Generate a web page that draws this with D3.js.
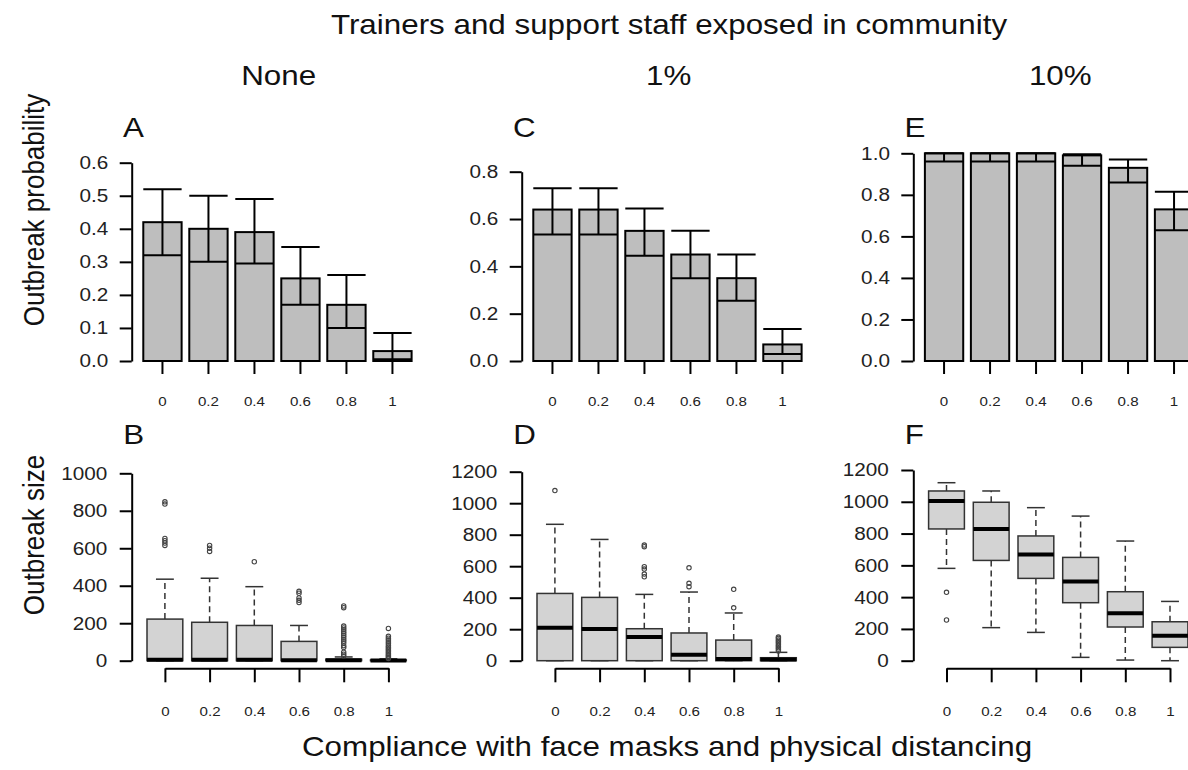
<!DOCTYPE html>
<html>
<head>
<meta charset="utf-8">
<script src="https://cdn.jsdelivr.net/npm/d3@7"></script>
<style>
  body { margin: 0; background: #fff; }
  svg { display: block; font-family: "Liberation Sans", Arial, sans-serif; }
</style>
</head>
<body>
<svg id="chart" width="1188" height="770"></svg>
<script>
const compliance = ["0", "0.2", "0.4", "0.6", "0.8", "1"]
const exposures = ["None", "1%", "10%"]
const lettersTop = ["A", "C", "E"]
const lettersBottom = ["B", "D", "F"]

// outbreak probability: estimate, lower and upper bound
const probNone = [0.42, 0.40, 0.39, 0.25, 0.17, 0.03]
const probNoneLo = [0.32, 0.30, 0.295, 0.17, 0.10, 0.005]
const probNoneHi = [0.52, 0.50, 0.49, 0.345, 0.26, 0.085]

const probOne = [0.64, 0.64, 0.55, 0.45, 0.35, 0.07]
const probOneLo = [0.535, 0.535, 0.445, 0.35, 0.255, 0.03]
const probOneHi = [0.73, 0.73, 0.645, 0.55, 0.45, 0.135]

const probTen = [1.0, 1.0, 1.0, 0.99, 0.93, 0.73]
const probTenLo = [0.96, 0.96, 0.96, 0.94, 0.86, 0.63]
const probTenHi = [1.0, 1.0, 1.0, 0.995, 0.97, 0.815]

const probTicksNone = [0, 0.1, 0.2, 0.3, 0.4, 0.5, 0.6]
const probTicksOne = [0, 0.2, 0.4, 0.6, 0.8]
const probTicksTen = [0, 0.2, 0.4, 0.6, 0.8, 1.0]

// outbreak size: [lower whisker, q1, median, q3, upper whisker]
const sizeNone = [
  [0, 0, 5, 222, 435], [0, 0, 5, 205, 440], [0, 0, 5, 188, 395],
  [0, 0, 3, 103, 188], [0, 0, 2, 8, 20], [0, 0, 1, 4, 10]
]
const outNone = [
  [615, 628, 640, 652, 836, 848],
  [583, 600, 615],
  [528],
  [310, 322, 335, 360, 370],
  [25, 35, 45, 70, 80, 95, 105, 115, 125, 135, 145, 155, 165, 175, 185, 283, 292],
  [12, 18, 25, 32, 40, 48, 56, 64, 72, 80, 90, 100, 110, 120, 130, 172]
]

const sizeOne = [
  [0, 0, 210, 427, 866], [0, 0, 201, 402, 770], [0, 0, 150, 203, 421],
  [0, 0, 38, 176, 436], [0, 0, 11, 131, 303], [0, 0, 8, 19, 53]
]
const outOne = [
  [1080],
  [],
  [533, 550, 582, 597, 724, 734],
  [470, 491, 590],
  [336, 453],
  [62, 72, 82, 92, 102, 112, 122, 132, 142, 150]
]

const sizeTen = [
  [581, 829, 1005, 1068, 1120], [208, 631, 829, 997, 1068], [178, 518, 669, 785, 963],
  [21, 365, 499, 650, 910], [4, 212, 298, 434, 753], [0, 84, 157, 245, 373]
]
const outTen = [[256, 430], [], [], [], [], []]

const sizeTicksNone = [0, 200, 400, 600, 800, 1000]
const sizeTicksMore = [0, 200, 400, 600, 800, 1000, 1200]

const STRETCH = 1.12
const panelLeft = [131.7, 521.7, 913.3]
const svg = d3.select("#chart")

const addText = (x, y, str, size, anchor = "middle") => {
  return svg.append("text")
    .attr("transform", `translate(${x},${y}) scale(${STRETCH},1)`)
    .attr("text-anchor", anchor)
    .attr("font-size", size)
    .attr("fill", "#111")
    .text(str)
}

const styleYAxis = (sel, dist) => {
  sel.select(".domain").attr("stroke", "#000").attr("stroke-width", 2)
  sel.selectAll(".tick line").attr("stroke", "#000").attr("stroke-width", 2)
  sel.selectAll(".tick text")
    .attr("x", -dist / STRETCH)
    .attr("transform", `scale(${STRETCH},1)`)
    .attr("font-size", 18.5)
    .attr("font-family", "Liberation Sans, Arial, sans-serif")
    .attr("fill", "#222")
}

const styleXAxis = (sel, labelY) => {
  sel.selectAll(".tick line").attr("stroke", "#000").attr("stroke-width", 2)
  sel.selectAll(".tick text")
    .attr("y", labelY)
    .attr("dy", "0.35em")
    .attr("transform", `scale(${STRETCH},1)`)
    .attr("font-size", 13.5)
    .attr("font-family", "Liberation Sans, Arial, sans-serif")
    .attr("fill", "#222")
}

const drawBarPanel = (x0, mean, lo, hi, ticks, topY, letter) => {
  const xScale = d3.scaleBand()
    .domain(compliance)
    .range([x0, x0 + 291.5])
    .paddingInner(1 / 6)
    .paddingOuter(0.252)
  const yScale = d3.scaleLinear().domain([0, d3.max(ticks)]).range([361, topY])
  const bw = xScale.bandwidth()

  const g = svg.append("g")

  g.selectAll(".bar")
    .data(compliance)
    .enter()
    .append("rect")
    .classed("bar", true)
    .attr("x", d => xScale(d))
    .attr("y", (d, i) => yScale(mean[i]))
    .attr("width", bw)
    .attr("height", (d, i) => yScale(0) - yScale(mean[i]))
    .attr("fill", "#bebebe")
    .attr("stroke", "#000")
    .attr("stroke-width", 2)

  // lower bound line across the bar, upper cap, and the vertical bar between
  g.selectAll(".lo")
    .data(compliance)
    .enter()
    .append("line")
    .attr("x1", d => xScale(d))
    .attr("x2", d => xScale(d) + bw)
    .attr("y1", (d, i) => yScale(lo[i]))
    .attr("y2", (d, i) => yScale(lo[i]))
    .attr("stroke", "#000")
    .attr("stroke-width", 2)

  g.selectAll(".hi")
    .data(compliance)
    .enter()
    .append("line")
    .attr("x1", d => xScale(d))
    .attr("x2", d => xScale(d) + bw)
    .attr("y1", (d, i) => yScale(hi[i]))
    .attr("y2", (d, i) => yScale(hi[i]))
    .attr("stroke", "#000")
    .attr("stroke-width", 2)

  g.selectAll(".err")
    .data(compliance)
    .enter()
    .append("line")
    .attr("x1", d => xScale(d) + bw / 2)
    .attr("x2", d => xScale(d) + bw / 2)
    .attr("y1", (d, i) => yScale(lo[i]))
    .attr("y2", (d, i) => yScale(hi[i]))
    .attr("stroke", "#000")
    .attr("stroke-width", 2)

  const yAxis = d3.axisLeft(yScale)
    .tickValues(ticks)
    .tickSize(12)
    .tickSizeOuter(0)
    .tickFormat(d3.format(".1f"))
  g.append("g")
    .attr("transform", `translate(${x0},0)`)
    .call(yAxis)
    .call(sel => styleYAxis(sel, 23.4))

  const xAxis = d3.axisBottom(xScale).tickSize(12).tickSizeOuter(0)
  g.append("g")
    .attr("transform", "translate(0,362)")
    .call(xAxis)
    .call(sel => sel.select(".domain").remove())
    .call(sel => styleXAxis(sel, 39.7))

  addText(x0 - 8.7, 136.7, letter, 28, "start")
}

const drawBoxPanel = (x0, stats, outliers, ticks, topY, letter) => {
  const xScale = d3.scalePoint()
    .domain(compliance)
    .range([x0 + 33.2, x0 + 33.2 + 5 * 44.7])
  const yScale = d3.scaleLinear().domain([0, d3.max(ticks)]).range([660.7, topY])
  const bw = 35.8
  const boxStroke = "#333"

  const g = svg.append("g")

  const boxes = g.selectAll(".box")
    .data(compliance)
    .enter()
    .append("g")
    .classed("box", true)

  // dashed whiskers
  boxes.append("line")
    .attr("x1", d => xScale(d)).attr("x2", d => xScale(d))
    .attr("y1", (d, i) => yScale(stats[i][3]))
    .attr("y2", (d, i) => yScale(stats[i][4]))
    .attr("stroke", boxStroke).attr("stroke-width", 1.5).attr("stroke-dasharray", "6,4")
  boxes.append("line")
    .attr("x1", d => xScale(d)).attr("x2", d => xScale(d))
    .attr("y1", (d, i) => yScale(stats[i][1]))
    .attr("y2", (d, i) => yScale(stats[i][0]))
    .attr("stroke", boxStroke).attr("stroke-width", 1.5).attr("stroke-dasharray", "6,4")

  // whisker caps
  ;[0, 4].forEach(k => {
    boxes.append("line")
      .attr("x1", d => xScale(d) - bw / 4).attr("x2", d => xScale(d) + bw / 4)
      .attr("y1", (d, i) => yScale(stats[i][k]))
      .attr("y2", (d, i) => yScale(stats[i][k]))
      .attr("stroke", boxStroke).attr("stroke-width", 1.5)
  })

  boxes.append("rect")
    .attr("x", d => xScale(d) - bw / 2)
    .attr("y", (d, i) => yScale(stats[i][3]))
    .attr("width", bw)
    .attr("height", (d, i) => Math.max(0.5, yScale(stats[i][1]) - yScale(stats[i][3])))
    .attr("fill", "#d3d3d3")
    .attr("stroke", boxStroke)
    .attr("stroke-width", 1.5)

  boxes.append("line")
    .attr("x1", d => xScale(d) - bw / 2).attr("x2", d => xScale(d) + bw / 2)
    .attr("y1", (d, i) => yScale(stats[i][2]))
    .attr("y2", (d, i) => yScale(stats[i][2]))
    .attr("stroke", "#000").attr("stroke-width", 4)

  boxes.each(function (d, i) {
    d3.select(this).selectAll("circle")
      .data(outliers[i])
      .enter()
      .append("circle")
      .attr("cx", xScale(d))
      .attr("cy", v => yScale(v))
      .attr("r", 2.2)
      .attr("fill", "none")
      .attr("stroke", "#444")
      .attr("stroke-width", 1.1)
  })

  const yAxis = d3.axisLeft(yScale)
    .tickValues(ticks)
    .tickSize(12)
    .tickSizeOuter(0)
    .tickFormat(d3.format("d"))
  g.append("g")
    .attr("transform", `translate(${x0},0)`)
    .call(yAxis)
    .call(sel => styleYAxis(sel, 24.5))

  const xAxis = d3.axisBottom(xScale).tickSize(14).tickSizeOuter(0)
  g.append("g")
    .attr("transform", "translate(0,668.3)")
    .call(xAxis)
    .call(sel => sel.select(".domain").attr("stroke", "#000").attr("stroke-width", 2))
    .call(sel => styleXAxis(sel, 43.4))

  addText(x0 - 8.5, 444, letter, 28, "start")
}

drawBarPanel(panelLeft[0], probNone, probNoneLo, probNoneHi, probTicksNone, 162.7, lettersTop[0])
drawBarPanel(panelLeft[1], probOne, probOneLo, probOneHi, probTicksOne, 171.7, lettersTop[1])
drawBarPanel(panelLeft[2], probTen, probTenLo, probTenHi, probTicksTen, 153.3, lettersTop[2])

drawBoxPanel(panelLeft[0], sizeNone, outNone, sizeTicksNone, 473.3, lettersBottom[0])
drawBoxPanel(panelLeft[1], sizeOne, outOne, sizeTicksMore, 471.7, lettersBottom[1])
drawBoxPanel(panelLeft[2], sizeTen, outTen, sizeTicksMore, 470, lettersBottom[2])

// column titles
exposures.forEach((label, i) => addText(panelLeft[i] + 147, 85, label, 28))

addText(669, 34, "Trainers and support staff exposed in community", 28)
addText(667, 756, "Compliance with face masks and physical distancing", 28)

svg.append("text")
  .attr("transform", `translate(44,210) rotate(-90) scale(1,${STRETCH})`)
  .attr("text-anchor", "middle")
  .attr("font-size", 26)
  .attr("fill", "#111")
  .text("Outbreak probability")

svg.append("text")
  .attr("transform", `translate(44,535) rotate(-90) scale(1,${STRETCH})`)
  .attr("text-anchor", "middle")
  .attr("font-size", 26)
  .attr("fill", "#111")
  .text("Outbreak size")
</script>
</body>
</html>
